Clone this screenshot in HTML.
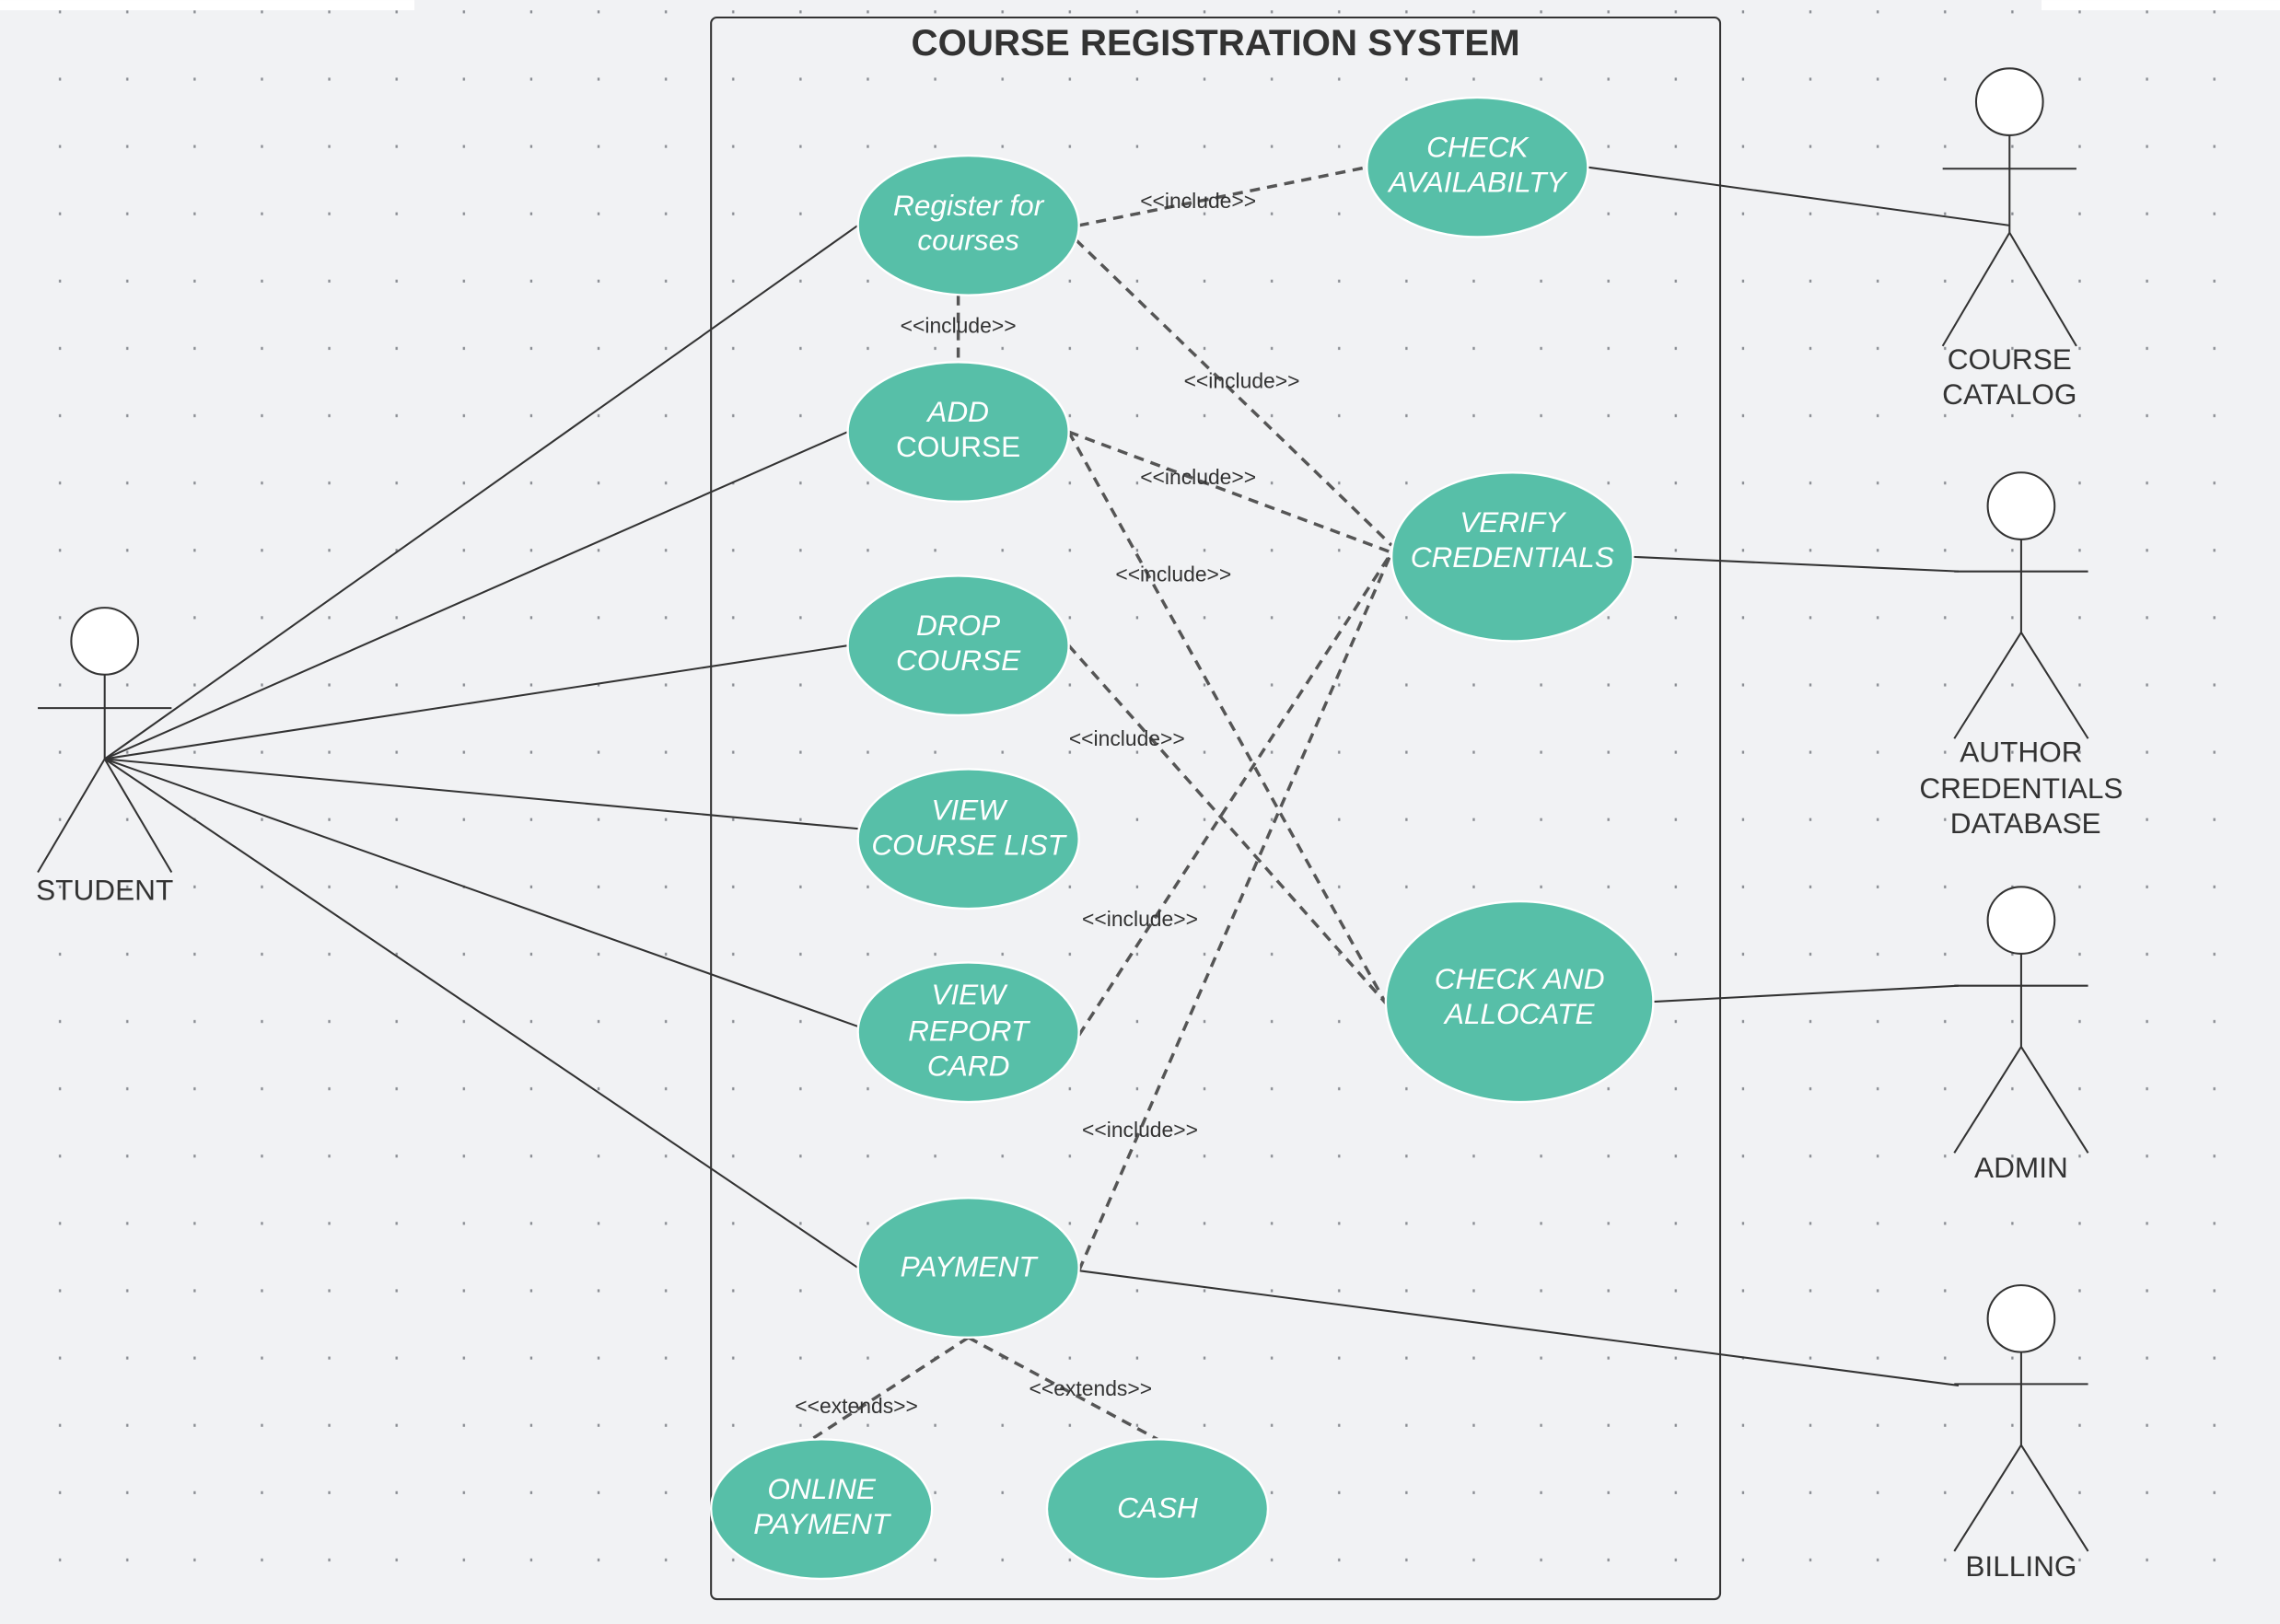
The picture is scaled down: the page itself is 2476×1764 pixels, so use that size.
<!DOCTYPE html>
<html><head><meta charset="utf-8"><style>
html,body{margin:0;padding:0;background:#f1f2f4;}
svg{display:block}
text{font-family:"Liberation Sans",sans-serif}
.e{fill:#57bfa8;stroke:#fff;stroke-width:1.5}
.t{fill:#fff;font-size:20px;font-style:italic;text-anchor:middle}
.l{stroke:#333;stroke-width:1.3;fill:none}
.d{stroke:#555;stroke-width:2.2;stroke-dasharray:7 5;fill:none}
.s{font-size:14.5px;fill:#333;text-anchor:middle}
.a{font-size:20px;fill:#333;text-anchor:middle}
</style></head><body>
<svg width="2476" height="1764" viewBox="0 0 1568 1117" xmlns="http://www.w3.org/2000/svg">
<defs><pattern id="p" x="18" y="-15.4" width="46.3" height="46.3" patternUnits="userSpaceOnUse"><rect x="22.5" y="22.5" width="1.5" height="2" fill="#8a8d93"/></pattern></defs>
<rect width="1568" height="1117" fill="#f1f2f4"/>
<rect width="1568" height="1117" fill="url(#p)"/>
<rect x="0" y="0" width="285" height="7" fill="#fff"/>
<rect x="1404" y="0" width="164" height="7" fill="#fff"/>
<rect x="489" y="12" width="694" height="1088" rx="4" fill="none" stroke="#333" stroke-width="1.3"/>
<text x="836" y="38" font-size="25.5" font-weight="bold" fill="#333" text-anchor="middle">COURSE REGISTRATION SYSTEM</text>

<g class="l">
<line x1="72" y1="522" x2="590" y2="155"/>
<line x1="72" y1="522" x2="583" y2="297"/>
<line x1="72" y1="522" x2="583" y2="444"/>
<line x1="72" y1="522" x2="590" y2="570"/>
<line x1="72" y1="522" x2="590" y2="706"/>
<line x1="72" y1="522" x2="590" y2="872"/>
<line x1="1092" y1="115" x2="1382" y2="155"/>
<line x1="1123" y1="383" x2="1347" y2="393"/>
<line x1="1137" y1="689" x2="1347" y2="678"/>
<line x1="742" y1="874" x2="1347" y2="953"/>
</g>
<g class="d">
<line x1="742" y1="155" x2="940" y2="115"/>
<line x1="659" y1="203" x2="659" y2="249"/>
<line x1="740" y1="165" x2="957" y2="375"/>
<line x1="735" y1="297" x2="957" y2="380"/>
<line x1="735" y1="297" x2="953" y2="690"/>
<line x1="735" y1="444" x2="953" y2="690"/>
<line x1="742" y1="712" x2="957" y2="380"/>
<line x1="742" y1="874" x2="957" y2="380"/>
<line x1="666" y1="920" x2="555" y2="992"/>
<line x1="666" y1="920" x2="796" y2="990"/>
</g>
<g class="s">
<text x="824" y="143">&lt;&lt;include&gt;&gt;</text>
<text x="659" y="229">&lt;&lt;include&gt;&gt;</text>
<text x="854" y="267">&lt;&lt;include&gt;&gt;</text>
<text x="824" y="333">&lt;&lt;include&gt;&gt;</text>
<text x="807" y="400">&lt;&lt;include&gt;&gt;</text>
<text x="775" y="513">&lt;&lt;include&gt;&gt;</text>
<text x="784" y="637">&lt;&lt;include&gt;&gt;</text>
<text x="784" y="782">&lt;&lt;include&gt;&gt;</text>
<text x="589" y="972">&lt;&lt;extends&gt;&gt;</text>
<text x="750" y="960">&lt;&lt;extends&gt;&gt;</text>
</g>

<ellipse class="e" cx="666" cy="155" rx="76" ry="48"/>
<text class="t" x="666" y="148">Register for</text><text class="t" x="666" y="172">courses</text>
<ellipse class="e" cx="1016" cy="115" rx="76" ry="48"/>
<text class="t" x="1016" y="108">CHECK</text><text class="t" x="1016" y="132">AVAILABILTY</text>
<ellipse class="e" cx="659" cy="297" rx="76" ry="48"/>
<text class="t" x="659" y="290">ADD</text><text class="t" x="659" y="314" style="font-style:normal">COURSE</text>
<ellipse class="e" cx="659" cy="444" rx="76" ry="48"/>
<text class="t" x="659" y="437">DROP</text><text class="t" x="659" y="461">COURSE</text>
<ellipse class="e" cx="666" cy="577" rx="76" ry="48"/>
<text class="t" x="666" y="564">VIEW</text><text class="t" x="666" y="588">COURSE LIST</text>
<ellipse class="e" cx="666" cy="710" rx="76" ry="48"/>
<text class="t" x="666" y="691">VIEW</text><text class="t" x="666" y="716">REPORT</text><text class="t" x="666" y="740">CARD</text>
<ellipse class="e" cx="1040" cy="383" rx="83" ry="58"/>
<text class="t" x="1040" y="366">VERIFY</text><text class="t" x="1040" y="390">CREDENTIALS</text>
<ellipse class="e" cx="1045" cy="689" rx="92" ry="69"/>
<text class="t" x="1045" y="680">CHECK AND</text><text class="t" x="1045" y="704">ALLOCATE</text>
<ellipse class="e" cx="666" cy="872" rx="76" ry="48"/>
<text class="t" x="666" y="878">PAYMENT</text>
<ellipse class="e" cx="565" cy="1038" rx="76" ry="48"/>
<text class="t" x="565" y="1031">ONLINE</text><text class="t" x="565" y="1055">PAYMENT</text>
<ellipse class="e" cx="796" cy="1038" rx="76" ry="48"/>
<text class="t" x="796" y="1044">CASH</text>

<g class="l" fill="#fff">
<circle cx="72" cy="441" r="23" fill="#fff"/>
<line x1="72" y1="464" x2="72" y2="522"/><line x1="26" y1="487" x2="118" y2="487"/>
<line x1="72" y1="522" x2="26" y2="600"/><line x1="72" y1="522" x2="118" y2="600"/>
<circle cx="1382" cy="70" r="23" fill="#fff"/>
<line x1="1382" y1="93" x2="1382" y2="160"/><line x1="1336" y1="116" x2="1428" y2="116"/>
<line x1="1382" y1="160" x2="1336" y2="238"/><line x1="1382" y1="160" x2="1428" y2="238"/>
<circle cx="1390" cy="348" r="23" fill="#fff"/>
<line x1="1390" y1="371" x2="1390" y2="435"/><line x1="1344" y1="393" x2="1436" y2="393"/>
<line x1="1390" y1="435" x2="1344" y2="508"/><line x1="1390" y1="435" x2="1436" y2="508"/>
<circle cx="1390" cy="633" r="23" fill="#fff"/>
<line x1="1390" y1="656" x2="1390" y2="720"/><line x1="1344" y1="678" x2="1436" y2="678"/>
<line x1="1390" y1="720" x2="1344" y2="793"/><line x1="1390" y1="720" x2="1436" y2="793"/>
<circle cx="1390" cy="907" r="23" fill="#fff"/>
<line x1="1390" y1="930" x2="1390" y2="994"/><line x1="1344" y1="952" x2="1436" y2="952"/>
<line x1="1390" y1="994" x2="1344" y2="1067"/><line x1="1390" y1="994" x2="1436" y2="1067"/>
</g>
<g class="a">
<text x="72" y="619">STUDENT</text>
<text x="1382" y="254">COURSE</text><text x="1382" y="278">CATALOG</text>
<text x="1390" y="524">AUTHOR</text><text x="1390" y="549">CREDENTIALS</text><text x="1393" y="573">DATABASE</text>
<text x="1390" y="810">ADMIN</text>
<text x="1390" y="1084">BILLING</text>
</g>
</svg>
</body></html>
